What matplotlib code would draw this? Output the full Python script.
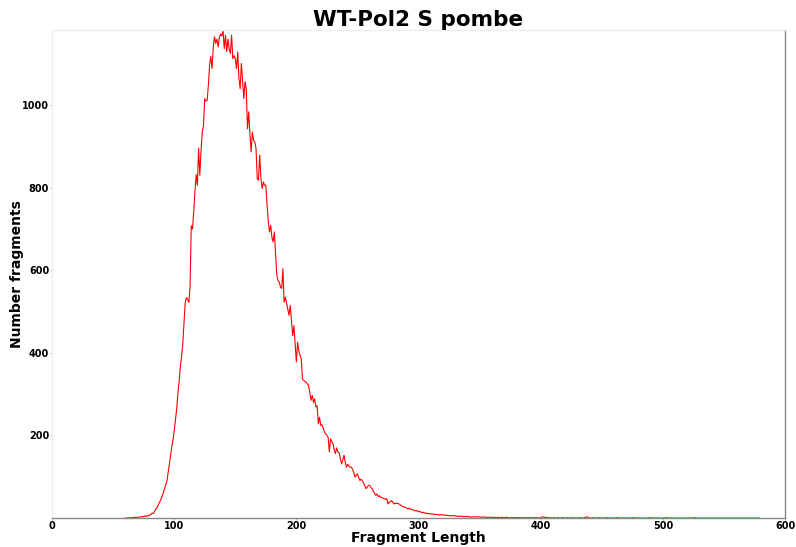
import numpy as np
import matplotlib
matplotlib.use('Agg')
import matplotlib.pyplot as plt

# fragment length (bp) and number of fragments at each length
start_len = 60
counts = [
    0, 0, 0, 0, 1, 0, 1, 1, 2, 1,                            # 60-69
    2, 2, 3, 2, 4, 3, 5, 4, 6, 5,                            # 70-79
    7, 9, 12, 11, 16, 22, 25, 32, 38, 44,                    # 80-89
    52, 60, 70, 80, 88, 110, 130, 150, 172, 188,             # 90-99
    210, 235, 262, 300, 330, 365, 390, 420, 470, 520,        # 100-109
    534, 530, 522, 560, 708, 700, 742, 790, 832, 806,        # 110-119
    896, 830, 890, 935, 950, 1016, 1010, 1012, 1048, 1098,   # 120-129
    1118, 1089, 1140, 1166, 1150, 1160, 1141, 1165, 1172, 1168,  # 130-139
    1182, 1137, 1170, 1130, 1160, 1137, 1125, 1170, 1113, 1120,  # 140-149
    1113, 1089, 1129, 1065, 1040, 1101, 1060, 1016, 1057, 1040,  # 150-159
    943, 984, 930, 887, 935, 915, 911, 895, 822, 818,        # 160-169
    879, 822, 798, 814, 806, 806, 760, 720, 693, 709,        # 170-179
    680, 669, 693, 640, 588, 575, 572, 560, 556, 604,        # 180-189
    523, 535, 520, 505, 491, 515, 480, 442, 466, 420,        # 190-199
    378, 426, 405, 394, 386, 337, 333, 331, 329, 325,        # 200-209
    321, 305, 285, 297, 280, 289, 269, 272, 228, 244,        # 210-219
    224, 226, 218, 208, 204, 200, 196, 160, 192, 185,        # 220-229
    180, 165, 156, 170, 160, 158, 145, 131, 140, 152,        # 230-239
    135, 123, 130, 126, 123, 123, 118, 110, 99, 104,         # 240-249
    107, 98, 91, 94, 90, 85, 78, 71, 75, 79,                 # 250-259
    79, 74, 71, 65, 60, 55, 58, 52, 54, 50,                  # 260-269
    50, 48, 47, 45, 47, 34, 38, 40, 42, 38,                  # 270-279
    34, 36, 35, 36, 34, 32, 30, 28, 27, 26,                  # 280-289
    25, 22, 24, 21, 22, 20, 19, 18, 17, 18,                  # 290-299
    15, 16, 14, 13, 14, 12, 11, 12, 10, 11,                  # 300-309
    10, 9, 10, 9, 8, 9, 8, 7, 8, 8,                          # 310-319
    7, 8, 6, 7, 6, 6, 5, 6, 5, 6,                            # 320-329
    5, 4, 5, 4, 4, 5, 4, 3, 4, 3,                            # 330-339
    4, 3, 3, 2, 3, 3, 2, 3, 3, 2,                            # 340-349
    3, 2, 2, 3, 2, 2, 1, 2, 2, 1,                            # 350-359
    2, 1, 2, 1, 1, 2, 1, 1, 2, 1,                            # 360-369
    1, 1, 2, 1, 1, 0, 1, 1, 1, 0,                            # 370-379
    1, 1, 0, 1, 0, 1, 1, 0, 1, 0,                            # 380-389
    1, 0, 1, 0, 0, 1, 0, 1, 0, 0,                            # 390-399
    1, 2, 3, 2, 1, 2, 0, 1, 0, 0,                            # 400-409
    0, 1, 0, 0, 1, 0, 0, 0, 1, 0,                            # 410-419
    0, 0, 1, 0, 0, 0, 1, 0, 0, 0,                            # 420-429
    0, 0, 1, 0, 0, 0, 1, 2, 3, 1,                            # 430-439
    0, 0, 0, 1, 0, 0, 0, 0, 1, 0,                            # 440-449
    0, 0, 0, 0, 1, 0, 0, 0, 0, 0,                            # 450-459
    0, 0, 1, 0, 0, 0, 0, 0, 0, 0,                            # 460-469
    0, 0, 0, 0, 0, 1, 0, 0, 0, 0,                            # 470-479
    0, 0, 0, 0, 0, 0, 0, 0, 0, 1,                            # 480-489
    0, 0, 0, 0, 0, 0, 0, 0, 0, 0,                            # 490-499
    0, 0, 0, 1, 0, 0, 0, 0, 0, 0,                            # 500-509
    0, 0, 0, 0, 0, 0, 0, 0, 0, 0,                            # 510-519
    0, 0, 0, 0, 0, 0, 1, 0, 0, 0,                            # 520-529
    0, 0, 0, 0, 0, 0, 0, 0, 0, 0,                            # 530-539
    0, 0, 0, 0, 0, 0, 0, 0, 0, 0,                            # 540-549
    0, 0, 0, 0, 0, 0, 0, 0, 0, 0,                            # 550-559
    0, 0, 0, 0, 0, 0, 0, 0, 0, 0,                            # 560-569
    0, 0, 0, 0, 0, 0, 0, 0, 0, 0,                            # 570-579
]
lengths = np.arange(start_len, start_len + len(counts))

x_ticks = [0, 100, 200, 300, 400, 500, 600]
y_ticks = [200, 400, 600, 800, 1000]

fig = plt.figure(figsize=(7.96, 5.47), dpi=100)
ax = fig.add_axes([0.0653, 0.053, 0.921, 0.892])

ax.plot(lengths, counts, color='red', linewidth=0.8)

ax.set_xlim(0, 600)
ax.set_ylim(0, max(counts))
ax.set_xticks(x_ticks)
ax.set_yticks(y_ticks)

for lab in ax.get_xticklabels() + ax.get_yticklabels():
    lab.set_fontweight('bold')
    lab.set_fontsize(7)
ax.tick_params(axis='both', length=1.5, width=0.6, color='#aaaaaa', pad=0.5)

ax.spines['left'].set_color('#eeeeee')
ax.spines['top'].set_color('#eeeeee')
ax.spines['bottom'].set_color('#888888')
ax.spines['right'].set_color('#888888')
for s in ax.spines.values():
    s.set_linewidth(1.0)

ax.set_xlabel('Fragment Length', fontsize=10, fontweight='bold', labelpad=0)
ax.set_ylabel('Number fragments', fontsize=10, fontweight='bold', labelpad=-1)
ax.set_title('WT-Pol2 S pombe', fontsize=15.5, fontweight='bold', pad=2)

fig.savefig('out.png', dpi=100)
